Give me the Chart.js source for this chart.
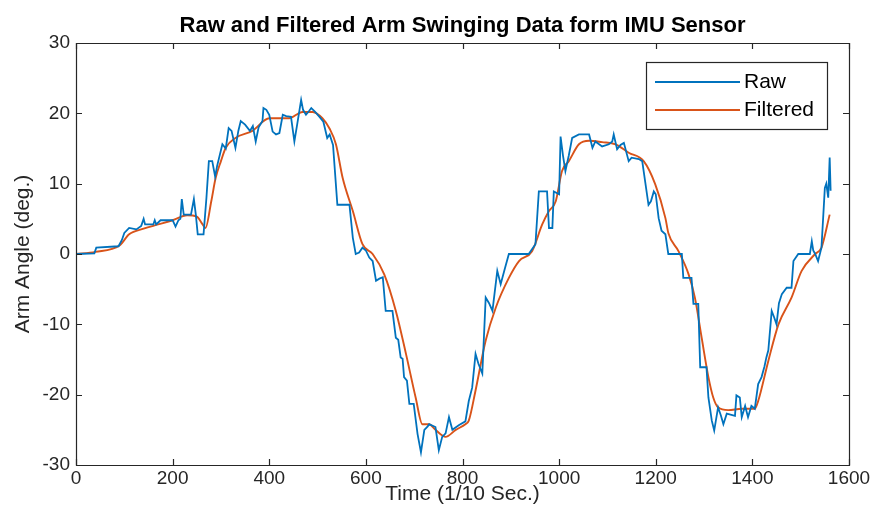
<!DOCTYPE html>
<html>
<head>
<meta charset="utf-8">
<script src="https://cdn.jsdelivr.net/npm/chart.js@4.4.1/dist/chart.umd.min.js"></script>
<style>
  html, body { margin: 0; padding: 0; background: #ffffff; }
  #wrap { width: 877px; height: 527px; }
</style>
</head>
<body>
<div id="wrap"><canvas id="c" width="877" height="527"></canvas></div>
<script>
// ---- data ----
const titleText = 'Raw and Filtered Arm Swinging Data form IMU Sensor';
const xTitle = 'Time (1/10 Sec.)';
const yTitle = 'Arm Angle (deg.)';
const xTicks = [0, 200, 400, 600, 800, 1000, 1200, 1400, 1600];
const yTicks = [-30, -20, -10, 0, 10, 20, 30];
const seriesNames = ['Raw', 'Filtered'];

const rawT = [0,38,42,88,95,100,110,125,135,140,143,160,163,166,175,200,206,212,216,219,223,238,244,248,252,264,270,275,282,288,292,303,310,316,322,330,336,341,350,360,366,372,378,386,388,394,400,407,414,421,428,435,445,452,458,466,470,476,482,487,495,504,512,520,525,532,541,566,573,579,586,593,600,607,614,621,628,635,641,655,662,667,672,676,679,685,690,699,707,714,721,728,731,744,751,758,765,772,779,793,806,813,820,827,833,841,848,855,862,872,879,888,896,937,951,958,975,979,986,989,1000,1003,1008,1013,1020,1027,1041,1062,1069,1075,1089,1103,1110,1113,1120,1127,1134,1144,1150,1165,1172,1185,1190,1196,1200,1206,1212,1220,1226,1254,1257,1274,1278,1288,1292,1305,1309,1316,1321,1329,1335,1340,1347,1364,1367,1374,1378,1385,1391,1398,1405,1412,1419,1425,1429,1433,1440,1445,1450,1455,1461,1471,1481,1485,1495,1519,1523,1526,1530,1536,1543,1550,1553,1557,1560,1562];
const rawV = [0,0.1,0.9,1.1,2,3,3.7,3.5,4,5,4.2,4.2,4.8,4.2,4.8,4.8,3.9,4.8,5,7.8,5.6,5.6,7.8,5.6,2.8,2.8,8,13.2,13.2,11,12.5,15.6,15,17.9,17.5,15.1,17.5,18.9,18.4,17.5,18.2,16,18,18.9,20.75,20.5,19.8,17.4,17,17.2,19.8,19.6,19.5,16,18.5,21.9,20.5,19.8,20.3,20.75,20.2,19.5,18.8,16.5,17,15.5,7,7,2.3,0,0.2,0.9,0.5,-0.5,-1,-3.8,-3.5,-3.3,-8.1,-8.1,-11.9,-12.2,-14.7,-14.9,-17.5,-18,-21.3,-21.3,-25.6,-28.2,-25,-24.5,-24.2,-24.6,-27.9,-26,-25.5,-23.2,-25,-24.3,-23.8,-20.9,-19,-14.2,-15.6,-17,-6.2,-7,-8.1,-2.4,-4.3,-2,0,0,1.4,8.9,8.9,3.7,3.7,8.9,8.5,16.7,14,11.8,14,16.5,17,17,15.1,16,15.3,15.6,16,17,14.9,15.5,15.8,13.2,13.7,13.5,13.2,7,7.5,8.9,8.5,5.1,3.3,2.8,0,0,-3.4,-3.4,-7.1,-7.1,-16.1,-16.1,-20.4,-23.7,-25.1,-21.8,-23,-24.2,-22.7,-23,-20.1,-20.4,-23.2,-21.6,-23.2,-21.6,-22,-18.5,-17.5,-16,-14.7,-13.7,-8.1,-9,-10,-7,-5.7,-4.8,-4.8,-1,0,0,1.8,0.5,0,-1,0.9,9.4,10,8,13.7,9];

const filtT = [0,40,90,110,140,170,200,230,250,262,268,280,289,300,310,330,365,400,441,469,490,510,525,538,552,573,593,614,638,662,683,703,717,731,744,765,786,806,813,827,848,869,896,917,944,965,979,993,1006,1020,1041,1062,1089,1117,1144,1175,1199,1220,1226,1247,1268,1281,1295,1309,1319,1329,1350,1378,1405,1412,1433,1454,1481,1502,1530,1543,1560];
const filtV = [0,0.3,1.2,2.8,3.6,4.2,4.8,5.5,5.3,4.2,3.7,7.5,10.8,13.2,15.1,16.5,17.5,19.3,19.3,20.2,20.2,19.3,17.8,15.6,10.8,6.1,1.4,0,-2.9,-8.1,-14.2,-20.4,-24.2,-24.2,-25,-26,-25,-24.2,-23.7,-19.4,-12.3,-7.6,-3.4,-1,0.4,4.2,6.1,7.5,11.8,13.2,15.6,16.1,15.9,15.6,14.4,13.2,9.9,5.1,3,0.4,-2.9,-6.2,-11.9,-17.5,-20.4,-21.8,-22.2,-22,-22,-20.9,-15.2,-10,-6.2,-2.4,0,0.9,5.6];

const colors = ['#0072BD', '#D95319'];
const axisColor = '#262626';
const FONT = "'Liberation Sans', Arial, Helvetica, sans-serif";

const toPts = (t, v) => t.map((x, i) => ({ x: x, y: v[i] }));

// ---- plugin: MATLAB-like box, inward ticks, titles, legend ----
const matlabDecor = {
  id: 'matlabDecor',
  afterDraw(chart) {
    const ctx = chart.ctx;
    const a = chart.chartArea;
    const xs = chart.scales.x, ys = chart.scales.y;
    ctx.save();
    ctx.strokeStyle = axisColor;
    ctx.lineWidth = 1.2;
    ctx.beginPath();
    ctx.rect(Math.round(a.left) + 0.5, Math.round(a.top) + 0.5, Math.round(a.right - a.left), Math.round(a.bottom - a.top));
    ctx.stroke();
    const tl = 6;
    ctx.beginPath();
    xTicks.forEach(v => {
      const px = Math.round(xs.getPixelForValue(v)) + 0.5;
      ctx.moveTo(px, a.bottom); ctx.lineTo(px, a.bottom - tl);
      ctx.moveTo(px, a.top); ctx.lineTo(px, a.top + tl);
    });
    yTicks.forEach(v => {
      const py = Math.round(ys.getPixelForValue(v)) + 0.5;
      ctx.moveTo(a.left, py); ctx.lineTo(a.left + tl, py);
      ctx.moveTo(a.right, py); ctx.lineTo(a.right - tl, py);
    });
    ctx.stroke();

    // title
    ctx.fillStyle = '#000000';
    ctx.font = 'bold 22px ' + FONT;
    ctx.textAlign = 'center';
    ctx.textBaseline = 'alphabetic';
    ctx.fillText(titleText, (a.left + a.right) / 2, 32);

    // axis titles
    ctx.fillStyle = axisColor;
    ctx.font = '21px ' + FONT;
    ctx.textBaseline = 'middle';
    ctx.fillText(xTitle, (a.left + a.right) / 2, 494);
    ctx.save();
    ctx.translate(23, (a.top + a.bottom) / 2);
    ctx.rotate(-Math.PI / 2);
    ctx.fillText(yTitle, 0, 0);
    ctx.restore();

    // legend
    const lx = 646, ly = 62, lw = 181, lh = 67;
    ctx.fillStyle = '#ffffff';
    ctx.fillRect(lx, ly, lw, lh);
    ctx.strokeStyle = axisColor;
    ctx.lineWidth = 1.2;
    ctx.strokeRect(lx + 0.5, ly + 0.5, lw, lh);
    const rows = [82, 110];
    ctx.font = '21px ' + FONT;
    ctx.textAlign = 'left';
    ctx.textBaseline = 'middle';
    chart.data.datasets.forEach((ds, i) => {
      ctx.strokeStyle = ds.borderColor;
      ctx.lineWidth = 1.8;
      ctx.beginPath();
      ctx.moveTo(655, rows[i]); ctx.lineTo(740, rows[i]);
      ctx.stroke();
      ctx.fillStyle = '#000000';
      ctx.fillText(ds.label, 744, rows[i]);
    });
    ctx.restore();
  }
};

new Chart(document.getElementById('c'), {
  type: 'line',
  data: {
    datasets: [
      { label: seriesNames[0], data: toPts(rawT, rawV), borderColor: colors[0], borderWidth: 1.8, pointRadius: 0, tension: 0, fill: false },
      { label: seriesNames[1], data: toPts(filtT, filtV), borderColor: colors[1], borderWidth: 1.9, pointRadius: 0, cubicInterpolationMode: 'monotone', fill: false }
    ]
  },
  options: {
    responsive: false,
    animation: false,
    devicePixelRatio: 1,
    layout: { padding: { top: 43, right: 28, left: 0, bottom: 0 } },
    plugins: { legend: { display: false }, title: { display: false }, tooltip: { enabled: false } },
    scales: {
      x: {
        type: 'linear', min: 0, max: 1600,
        afterBuildTicks: s => { s.ticks = xTicks.map(v => ({ value: v })); },
        afterFit: s => { s.height = 62; },
        grid: { display: false, drawTicks: false },
        border: { display: false },
        ticks: { color: axisColor, font: { family: FONT, size: 19 }, padding: 2, maxRotation: 0, autoSkip: false, callback: v => String(v) }
      },
      y: {
        type: 'linear', min: -30, max: 30,
        afterBuildTicks: s => { s.ticks = yTicks.map(v => ({ value: v })); },
        afterFit: s => { s.width = 76; },
        grid: { display: false, drawTicks: false },
        border: { display: false },
        ticks: { color: axisColor, font: { family: FONT, size: 19 }, padding: 6, autoSkip: false, callback: v => String(v) }
      }
    }
  },
  plugins: [matlabDecor]
});
</script>
</body>
</html>
